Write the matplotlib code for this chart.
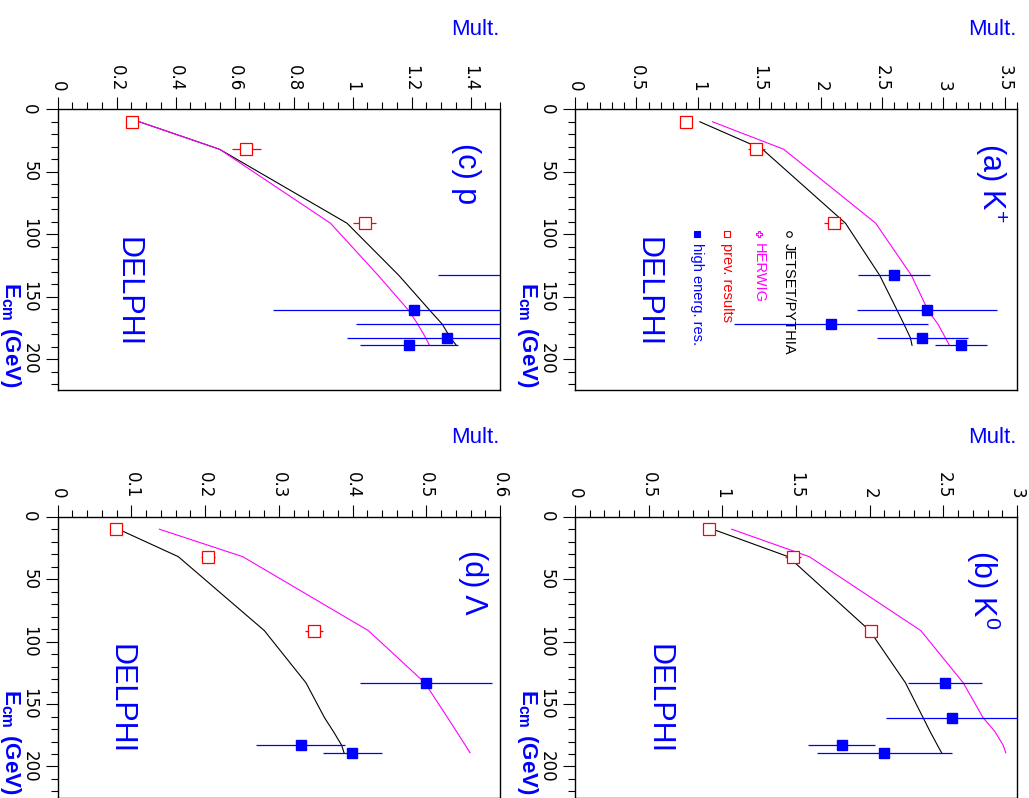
import numpy as np
import matplotlib.pyplot as plt
from matplotlib.ticker import MultipleLocator, FormatStrFormatter

plt.rcParams['font.family'] = ['DejaVu Sans']
plt.rcParams['mathtext.fontset'] = 'custom'
plt.rcParams['mathtext.rm'] = 'Liberation Sans'
plt.rcParams['mathtext.bf'] = 'Liberation Sans:bold'

# centre-of-mass energies (GeV)
E_MODEL = [10, 32, 91.2, 133, 161, 172, 183, 189]
E_PREV = [10, 32, 91.2]
E_HIGH = [133, 161, 172, 183, 189]

# (a) K+
kp_jetset = [1.017, 1.527, 2.203, 2.482, 2.624, 2.679, 2.732, 2.745]
kp_herwig = [1.12, 1.70, 2.449, 2.74, 2.875, 2.956, 3.017, 3.05]
kp_prev = [0.901, 1.478, 2.107]
kp_prev_err = [0.01, 0.07, 0.075]
kp_high = [2.598, 2.87, 2.088, 2.829, 3.146]
kp_high_err = [0.29, 0.57, 0.79, 0.37, 0.21]

# (b) K0
k0_jetset = [0.934, 1.447, 2.0, 2.243, 2.363, 2.41, 2.46, 2.488]
k0_herwig = [1.063, 1.59, 2.347, 2.635, 2.77, 2.85, 2.906, 2.924]
k0_prev = [0.909, 1.479, 2.008]
k0_prev_err = [0.01, 0.057, 0.01]
k0_high = [2.51, 2.56, np.nan, 1.809, 2.098]
k0_high_err = [0.251, 0.45, np.nan, 0.228, 0.458]

# (c) p
p_jetset = [0.277, 0.549, 0.981, 1.157, 1.262, 1.304, 1.332, 1.352]
p_herwig = [0.277, 0.549, 0.925, 1.087, 1.19, 1.221, 1.248, 1.261]
p_prev = [0.252, 0.640, 1.041]
p_prev_err = [0.005, 0.048, 0.039]
p_high = [1.85, 1.210, 1.58, 1.321, 1.191]
p_high_err = [0.56, 0.48, 0.57, 0.34, 0.166]

# (d) Lambda
lam_jetset = [0.0823, 0.1636, 0.2803, 0.3368, 0.362, 0.374, 0.3852, 0.3884]
lam_herwig = [0.1379, 0.251, 0.4214, 0.498, 0.529, 0.541, 0.553, 0.5593]
lam_prev = [0.0791, 0.2043, 0.3477]
lam_prev_err = [0.002, 0.0097, 0.012]
lam_high = [0.4996, np.nan, np.nan, 0.3296, 0.3997]
lam_high_err = [0.09, np.nan, np.nan, 0.06, 0.04]

W, H = 1029, 798
fig = plt.figure(figsize=(W / 100, H / 100), dpi=100)


def make_axes(left, top, width=442, height=281):
    return fig.add_axes([left / W, 1 - (top + height) / H, width / W, height / H])


def draw_panel(ax, label, xmax, major, minor, jetset, herwig, prev, prev_err,
               high, high_err, label_x, delphi_x):
    ax.plot(jetset, E_MODEL, color='black', lw=0.8, zorder=2)
    ax.plot(herwig, E_MODEL, color='#ff00ff', lw=0.8, zorder=2)

    prev = np.array(prev)
    prev_err = np.array(prev_err)
    ax.hlines(E_PREV, prev - prev_err, prev + prev_err, color='red', lw=0.9, zorder=3)
    ax.plot(prev, E_PREV, 's', ms=8, mfc='white', mec='red', mew=0.9, zorder=4)

    high = np.array(high)
    high_err = np.array(high_err)
    ok = ~np.isnan(high)
    e_high = np.array(E_HIGH)[ok]
    ax.hlines(e_high, high[ok] - high_err[ok], high[ok] + high_err[ok],
              color='blue', lw=0.9, zorder=3)
    ax.plot(high[ok], e_high, 's', ms=7.5, color='blue', zorder=4)

    ax.set_xlim(0, xmax)
    ax.set_ylim(225, 0)
    ax.xaxis.tick_top()
    ax.xaxis.set_major_locator(MultipleLocator(major))
    ax.xaxis.set_minor_locator(MultipleLocator(minor))
    ax.xaxis.set_major_formatter(FormatStrFormatter('%g'))
    ax.yaxis.set_major_locator(MultipleLocator(50))
    ax.yaxis.set_minor_locator(MultipleLocator(10))
    ax.tick_params(which='both', direction='out', width=0.8, labelsize=12)
    ax.tick_params(which='major', length=9)
    ax.tick_params(which='minor', length=4.7)
    ax.tick_params(axis='x', pad=4, labelrotation=-90)
    ax.tick_params(axis='y', pad=5, labelrotation=-90)
    plt.setp(ax.get_yticklabels(), va='center')
    for s in ax.spines.values():
        s.set_linewidth(1.0)

    ax.text(1.0, 1 + 74 / 281, 'Mult.', transform=ax.transAxes, ha='right',
            va='baseline', color='blue', fontsize=16, family='Liberation Sans')
    ax.text(-35 / 442, 3 / 281, r'$\mathbf{E_{cm}\ (GeV)}$', transform=ax.transAxes,
            rotation=-90, ha='right', va='bottom', color='blue', fontsize=16)
    ax.text(label_x, 0.88, label, transform=ax.transAxes, rotation=-90,
            ha='center', va='top', color='blue', fontsize=22, family='Liberation Sans')
    ax.text(delphi_x, 0.35, 'DELPHI', transform=ax.transAxes, rotation=-90,
            ha='center', va='center', color='blue', fontsize=22, family='Liberation Sans')


ax_a = make_axes(575, 109.3)
ax_b = make_axes(575, 516.7)
ax_c = make_axes(57.7, 109.3, width=442.3)
ax_d = make_axes(57.7, 516.7, width=442.3)

draw_panel(ax_a, r'(a) K$^{+}$', 3.6, 0.5, 0.1, kp_jetset, kp_herwig, kp_prev,
           kp_prev_err, kp_high, kp_high_err, 0.94, 0.163)
draw_panel(ax_b, r'(b) K$^{0}$', 3.0, 0.5, 0.1, k0_jetset, k0_herwig, k0_prev,
           k0_prev_err, k0_high, k0_high_err, 0.923, 0.19)
draw_panel(ax_c, '(c) p', 1.5, 0.2, 0.05, p_jetset, p_herwig, p_prev,
           p_prev_err, p_high, p_high_err, 0.923, 0.157)
draw_panel(ax_d, '(d) Λ', 0.6, 0.1, 0.02, lam_jetset, lam_herwig, lam_prev,
           lam_prev_err, lam_high, lam_high_err, 0.939, 0.141)

# legend of panel (a), written by hand because the text runs downwards
legend_items = [
    ('JETSET/PYTHIA', 'black', 'o', 'none', 0.484),
    ('HERWIG', '#ff00ff', 'P', 'none', 0.416),
    ('prev. results', 'red', 's', 'none', 0.344),
    ('high energ. res.', 'blue', 's', 'blue', 0.276),
]
for name, col, mk, fc, x in legend_items:
    ax_a.plot([x], [0.556], mk, ms=4, mec=col, mfc=fc, mew=0.8,
              transform=ax_a.transAxes, clip_on=False)
    ax_a.text(x, 0.525, name, transform=ax_a.transAxes, rotation=-90,
              ha='center', va='top', color=col, fontsize=10.5, family='Liberation Sans')

fig.savefig('out.png', dpi=100)
